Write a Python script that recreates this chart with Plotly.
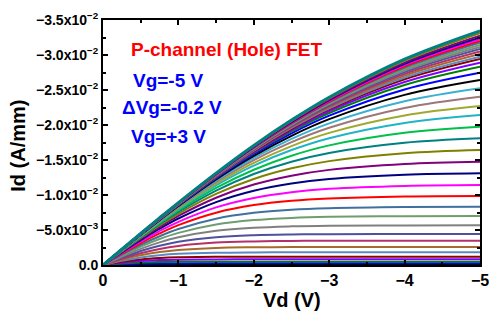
import plotly.graph_objects as go

# Drain voltage sample points (V)
vd = [0, -0.25, -0.5, -0.75, -1, -1.5, -2, -2.5, -3, -4, -5]

# Gate voltages, from +3 V down to -5 V in -0.2 V steps
vg = [3.0, 2.8, 2.6, 2.4, 2.2, 2.0, 1.8, 1.6, 1.4, 1.2, 1.0, 0.8, 0.6, 0.4, 0.2, 0.0,
      -0.2, -0.4, -0.6, -0.8, -1.0, -1.2, -1.4, -1.6, -1.8, -2.0, -2.2, -2.4, -2.6, -2.8,
      -3.0, -3.2, -3.4, -3.6, -3.8, -4.0, -4.2, -4.4, -4.6, -4.8, -5.0]

# Drain current (A/mm) for each gate voltage, at the vd points
id_curves = [
    [0, -0.00002, -0.00003, -0.00004, -0.00004, -0.00004, -0.00004, -0.00004, -0.00004, -0.00004, -0.00004],
    [0, -0.00011, -0.00019, -0.00022, -0.00023, -0.00024, -0.00024, -0.00024, -0.00024, -0.00024, -0.00024],
    [0, -0.00021, -0.00035, -0.00042, -0.00045, -0.00047, -0.00047, -0.00047, -0.00047, -0.00047, -0.00047],
    [0, -0.00033, -0.00057, -0.00070, -0.00076, -0.00080, -0.00081, -0.00081, -0.00081, -0.00081, -0.00081],
    [0, -0.00045, -0.00079, -0.00099, -0.00110, -0.00117, -0.00119, -0.00119, -0.00119, -0.00119, -0.00119],
    [0, -0.00060, -0.00108, -0.00140, -0.00159, -0.00175, -0.00180, -0.00181, -0.00181, -0.00181, -0.00181],
    [0, -0.00075, -0.00139, -0.00185, -0.00215, -0.00244, -0.00253, -0.00256, -0.00257, -0.00257, -0.00257],
    [0, -0.00090, -0.00169, -0.00230, -0.00273, -0.00320, -0.00337, -0.00344, -0.00346, -0.00347, -0.00347],
    [0, -0.00105, -0.00200, -0.00275, -0.00332, -0.00397, -0.00425, -0.00436, -0.00440, -0.00443, -0.00443],
    [0, -0.00121, -0.00231, -0.00323, -0.00396, -0.00488, -0.00532, -0.00552, -0.00561, -0.00566, -0.00567],
    [0, -0.00136, -0.00262, -0.00371, -0.00459, -0.00579, -0.00642, -0.00673, -0.00688, -0.00698, -0.00700],
    [0, -0.00148, -0.00288, -0.00411, -0.00514, -0.00661, -0.00745, -0.00790, -0.00812, -0.00829, -0.00833],
    [0, -0.00161, -0.00314, -0.00451, -0.00570, -0.00747, -0.00856, -0.00918, -0.00951, -0.00979, -0.00986],
    [0, -0.00171, -0.00335, -0.00485, -0.00617, -0.00823, -0.00958, -0.01040, -0.01088, -0.01130, -0.01143],
    [0, -0.00181, -0.00356, -0.00518, -0.00664, -0.00898, -0.01060, -0.01164, -0.01228, -0.01289, -0.01310],
    [0, -0.00189, -0.00372, -0.00544, -0.00701, -0.00961, -0.01149, -0.01276, -0.01359, -0.01444, -0.01476],
    [0, -0.00195, -0.00385, -0.00566, -0.00732, -0.01015, -0.01229, -0.01381, -0.01484, -0.01597, -0.01643],
    [0, -0.00200, -0.00396, -0.00583, -0.00758, -0.01062, -0.01300, -0.01476, -0.01601, -0.01746, -0.01810],
    [0, -0.00204, -0.00405, -0.00597, -0.00779, -0.01101, -0.01361, -0.01561, -0.01709, -0.01889, -0.01976],
    [0, -0.00208, -0.00413, -0.00611, -0.00799, -0.01137, -0.01419, -0.01642, -0.01812, -0.02030, -0.02143],
    [0, -0.00211, -0.00418, -0.00620, -0.00812, -0.01162, -0.01459, -0.01699, -0.01887, -0.02136, -0.02271],
    [0, -0.00213, -0.00424, -0.00628, -0.00825, -0.01187, -0.01498, -0.01755, -0.01961, -0.02244, -0.02404],
    [0, -0.00215, -0.00428, -0.00635, -0.00835, -0.01206, -0.01529, -0.01802, -0.02024, -0.02338, -0.02524],
    [0, -0.00217, -0.00431, -0.00641, -0.00843, -0.01223, -0.01558, -0.01845, -0.02083, -0.02430, -0.02643],
    [0, -0.00218, -0.00434, -0.00645, -0.00851, -0.01237, -0.01582, -0.01881, -0.02133, -0.02508, -0.02747],
    [0, -0.00219, -0.00436, -0.00649, -0.00856, -0.01248, -0.01600, -0.01909, -0.02172, -0.02572, -0.02833],
    [0, -0.00220, -0.00437, -0.00652, -0.00860, -0.01255, -0.01613, -0.01928, -0.02199, -0.02614, -0.02890],
    [0, -0.00220, -0.00439, -0.00654, -0.00864, -0.01262, -0.01625, -0.01946, -0.02223, -0.02653, -0.02943],
    [0, -0.00221, -0.00441, -0.00657, -0.00867, -0.01268, -0.01634, -0.01958, -0.02239, -0.02678, -0.02976],
    [0, -0.00222, -0.00441, -0.00658, -0.00870, -0.01272, -0.01641, -0.01970, -0.02256, -0.02706, -0.03015],
    [0, -0.00222, -0.00442, -0.00659, -0.00872, -0.01276, -0.01648, -0.01980, -0.02271, -0.02731, -0.03050],
    [0, -0.00222, -0.00443, -0.00661, -0.00874, -0.01280, -0.01655, -0.01991, -0.02286, -0.02756, -0.03085],
    [0, -0.00223, -0.00444, -0.00662, -0.00876, -0.01284, -0.01661, -0.02000, -0.02299, -0.02777, -0.03115],
    [0, -0.00223, -0.00445, -0.00663, -0.00877, -0.01288, -0.01667, -0.02009, -0.02312, -0.02799, -0.03145],
    [0, -0.00224, -0.00446, -0.00665, -0.00879, -0.01291, -0.01673, -0.02018, -0.02324, -0.02820, -0.03175],
    [0, -0.00224, -0.00446, -0.00666, -0.00881, -0.01295, -0.01678, -0.02026, -0.02335, -0.02838, -0.03200],
    [0, -0.00224, -0.00447, -0.00667, -0.00883, -0.01298, -0.01683, -0.02034, -0.02346, -0.02856, -0.03225],
    [0, -0.00225, -0.00448, -0.00668, -0.00885, -0.01301, -0.01688, -0.02041, -0.02357, -0.02873, -0.03250],
    [0, -0.00225, -0.00449, -0.00670, -0.00887, -0.01304, -0.01694, -0.02049, -0.02367, -0.02891, -0.03275],
    [0, -0.00226, -0.00450, -0.00671, -0.00889, -0.01309, -0.01701, -0.02060, -0.02382, -0.02915, -0.03310],
    [0, -0.00226, -0.00451, -0.00673, -0.00892, -0.01313, -0.01708, -0.02070, -0.02397, -0.02940, -0.03345],
]

# Tick definitions
x_tickvals = [0, -1, -2, -3, -4, -5]
x_ticktext = ["0", "−1", "−2", "−3", "−4", "−5"]
y_tickvals = [0, -0.005, -0.01, -0.015, -0.02, -0.025, -0.03, -0.035]
y_ticktext = ["0.0", "−5.0x10<sup>−3</sup>", "−1.0x10<sup>−2</sup>", "−1.5x10<sup>−2</sup>",
              "−2.0x10<sup>−2</sup>", "−2.5x10<sup>−2</sup>", "−3.0x10<sup>−2</sup>", "−3.5x10<sup>−2</sup>"]

# Line colour cycle (repeats every 23 curves)
palette = ["#000000", "#0000FF", "#008000", "#8000FF", "#8B0000", "#5A8AC6", "#A86A2A", "#B4306A",
           "#50509E", "#808080", "#6E9E6E", "#40709E", "#FF0000", "#FF00FF", "#000080", "#800080",
           "#808000", "#008080", "#00C04A", "#20B4C4", "#A0A830", "#9E7676", "#3CB0D0"]

FONT = "Liberation Sans, Arial, sans-serif"

fig = go.Figure()
for i, (g, row) in enumerate(zip(vg, id_curves)):
    fig.add_trace(go.Scatter(
        x=vd, y=row, mode="lines", name="Vg=%g V" % g,
        line=dict(color=palette[i % len(palette)], width=3 if i == len(vg) - 1 else 2, shape="spline"),
        showlegend=False))

fig.update_layout(
    width=489, height=320, margin=dict(l=103, r=9, t=20, b=55, autoexpand=False),
    paper_bgcolor="white", plot_bgcolor="white",
    font=dict(family=FONT, color="black"))

fig.update_xaxes(
    range=[0, -5], tickvals=x_tickvals, ticktext=["<b>%s</b>" % t for t in x_ticktext],
    ticks="inside", ticklen=5, tickwidth=1.5, tickcolor="black", ticklabeloverflow="allow",
    showline=True, linewidth=2, linecolor="black", mirror="allticks", automargin=False,
    showgrid=False, zeroline=False, tickfont=dict(size=16, family=FONT),
    minor=dict(tickvals=[-0.5, -1.5, -2.5, -3.5, -4.5], ticks="inside", ticklen=3, tickwidth=1.5, tickcolor="black"))

fig.update_yaxes(
    range=[0, -0.035], tickvals=y_tickvals, ticktext=["<b>%s</b>" % t for t in y_ticktext],
    ticks="inside", ticklen=5, tickwidth=1.5, tickcolor="black", ticklabeloverflow="allow",
    showline=True, linewidth=2, linecolor="black", mirror="allticks", automargin=False,
    showgrid=False, zeroline=False, tickfont=dict(size=14, family=FONT),
    minor=dict(tickvals=[-0.0025, -0.0075, -0.0125, -0.0175, -0.0225, -0.0275, -0.0325],
               ticks="inside", ticklen=3, tickwidth=1.5, tickcolor="black"))

# Axis titles
fig.add_annotation(text="<b>Vd (V)</b>", x=0.5, y=-0.143, xref="paper", yref="paper",
                   showarrow=False, xanchor="center", yanchor="middle",
                   font=dict(size=20, family=FONT, color="black"))
fig.add_annotation(text="<b>Id (A/mm)</b>", x=-0.226, y=0.486, xref="paper", yref="paper",
                   showarrow=False, xanchor="center", yanchor="middle", textangle=-90,
                   font=dict(size=20, family=FONT, color="black"))

notes = [
    ("P-channel (Hole) FET", "#FF0000", 0.3276, 0.8776),
    ("Vg=-5 V", "#0000FF", 0.175, 0.755),
    ("ΔVg=-0.2 V", "#0000FF", 0.1817, 0.641),
    ("Vg=+3 V", "#0000FF", 0.175, 0.5265),
]
for text, color, x, y in notes:
    fig.add_annotation(text="<b>%s</b>" % text, x=x, y=y, xref="paper", yref="paper",
                       showarrow=False, xanchor="center", yanchor="middle",
                       font=dict(size=19, color=color, family=FONT))

fig.write_html("out.html", config={"displayModeBar": False, "responsive": False},
               post_script="document.body.style.margin='0';document.body.style.padding='0';"
                           "document.body.style.overflow='hidden';")
